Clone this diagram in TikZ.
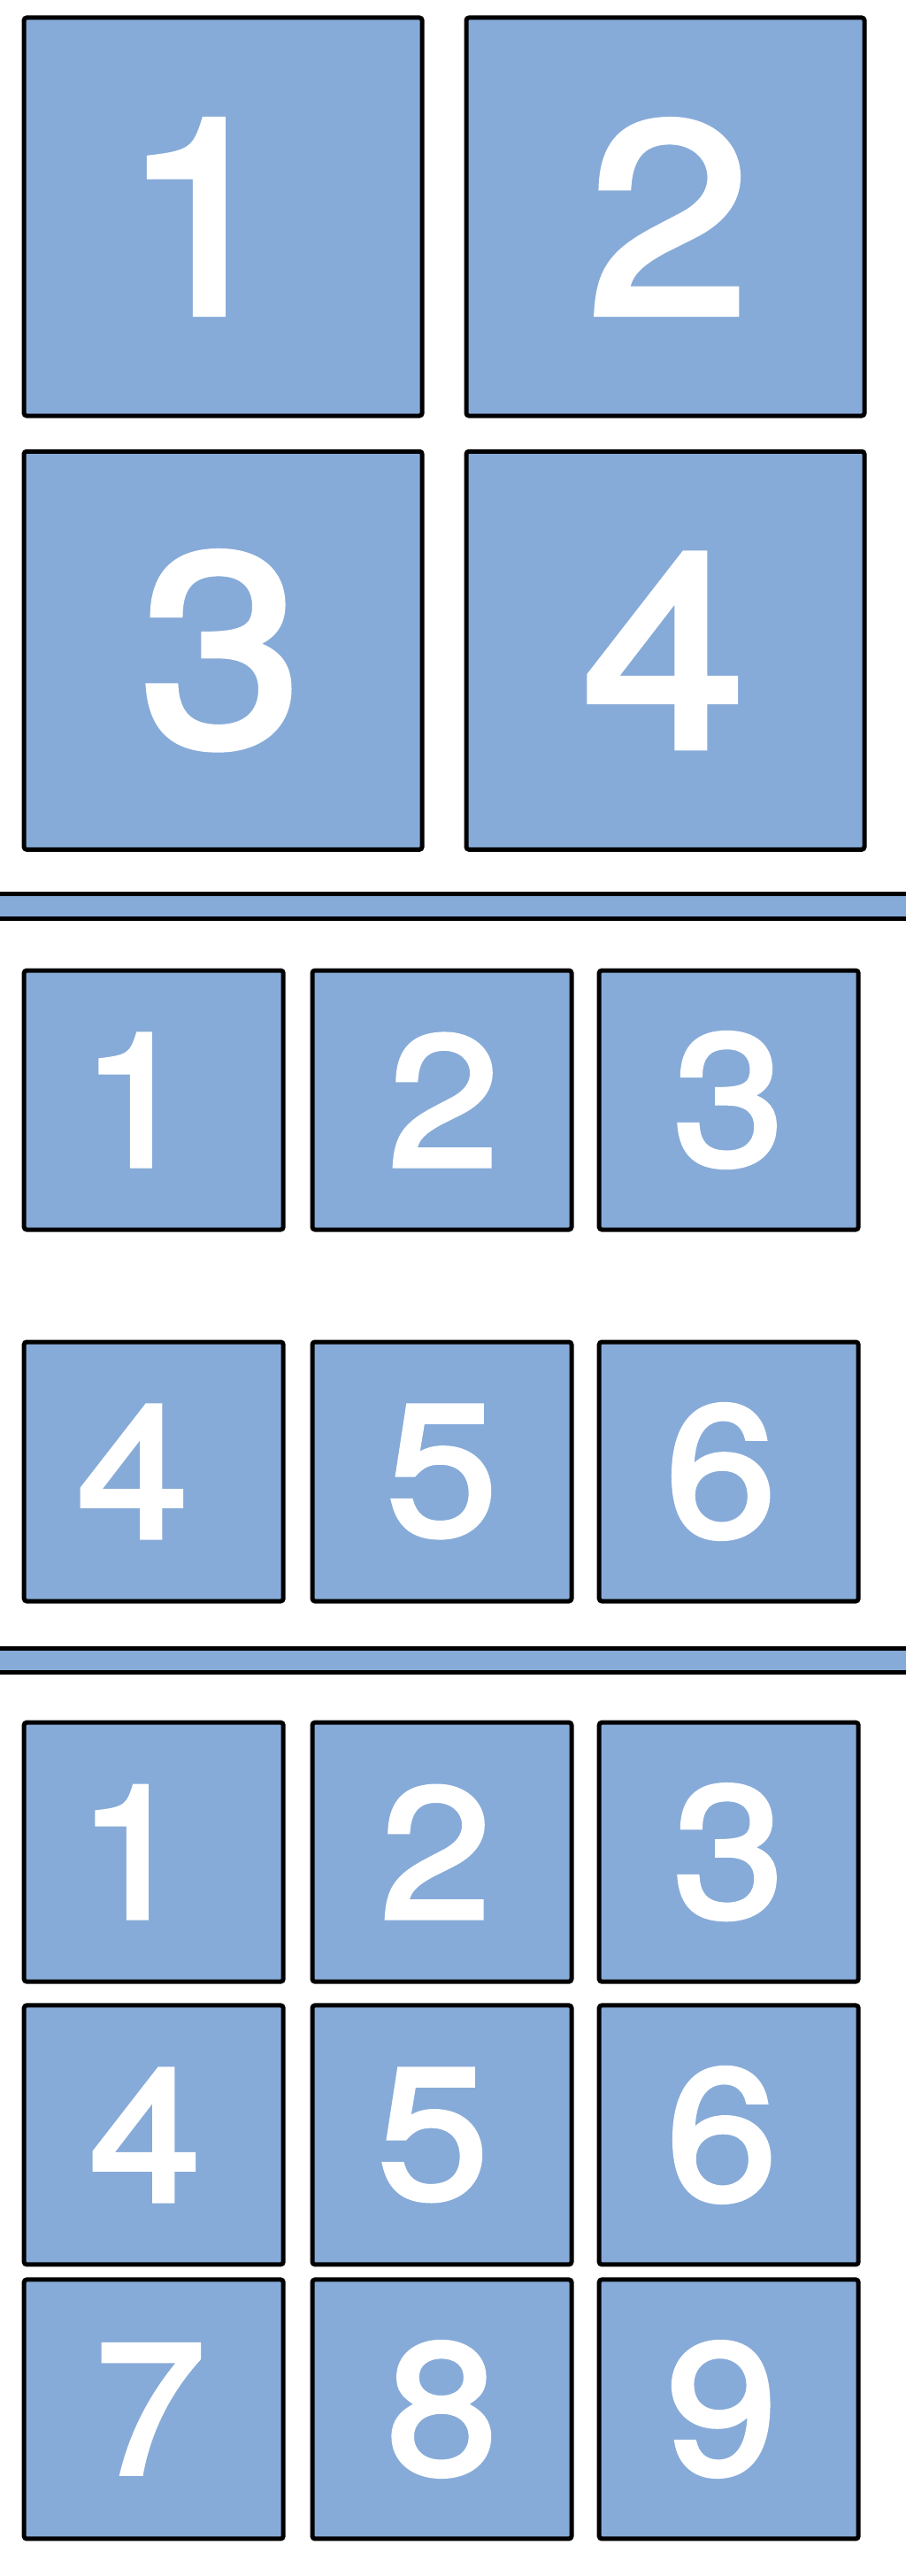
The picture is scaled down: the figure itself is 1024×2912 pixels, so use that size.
\documentclass[tikz,border=0pt]{standalone}
\usepackage{fontspec}
\newfontfamily\numfont[FakeStretch=1.076,FakeBold=2.5]{TeX Gyre Heros}
\definecolor{cellblue}{RGB}{135,171,216}
% digit, moved sideways inside its cell
\newcommand\dg[2]{\kern#1pt#2\kern-#1pt}
\begin{document}
\begin{tikzpicture}[x=1pt,y=1pt]
\tikzstyle{every node}+=[inner sep=0pt, outer sep=0pt]
\tikzstyle{cell}=[draw=black, line width=5pt, fill=cellblue, rounded corners=3pt, text=white]
\tikzstyle{bigcell}=[cell, minimum width=450pt, minimum height=450pt, font=\numfont\fontsize{308}{308}\selectfont]
\tikzstyle{smallcell}=[cell, minimum width=293pt, minimum height=293pt, font=\numfont\fontsize{210}{210}\selectfont]
\tikzstyle{bar}=[draw=black, line width=5pt, fill=cellblue, minimum width=1060pt]
\useasboundingbox (0,0) rectangle (1024,-2912);
\clip (0,0) rectangle (1024,-2912);
% four cells
\node [bigcell] (a1) at (252.1,-245) {\dg{-24}{1}};
\node [bigcell] (a2) at (752,-245) {\dg{4}{2}};
\node [bigcell] (a3) at (252.1,-735.3) {\dg{-2}{3}};
\node [bigcell] (a4) at (752,-735.3) {\dg{-2}{4}};
\node [bar, minimum height=27.5pt] (sep1) at (512,-1024.5) {};
% six cells
\node [smallcell] (b1) at (173.7,-1243.5) {\dg{-20}{1}};
\node [smallcell] (b2) at (499.5,-1243.5) {\dg{2}{2}};
\node [smallcell] (b3) at (823.7,-1243.5) {\dg{0}{3}};
\node [smallcell] (b4) at (173.7,-1663.5) {\dg{-24}{4}};
\node [smallcell] (b5) at (499.5,-1663.5) {\dg{0}{5}};
\node [smallcell] (b6) at (823.7,-1663.5) {\dg{-9}{6}};
\node [bar, minimum height=26.8pt] (sep2) at (512,-1876.6) {};
% nine cells
\node [smallcell] (c1) at (173.7,-2093.6) {\dg{-24}{1}};
\node [smallcell] (c2) at (499.5,-2093.6) {\dg{-7}{2}};
\node [smallcell] (c3) at (823.7,-2093.6) {\dg{0}{3}};
\node [smallcell] (c4) at (173.7,-2413.4) {\dg{-10}{4}};
\node [smallcell] (c5) at (499.5,-2413.4) {\dg{-10}{5}};
\node [smallcell] (c6) at (823.7,-2413.4) {\dg{-8}{6}};
\node [smallcell] (c7) at (173.7,-2723.4) {\dg{-4}{7}};
\node [smallcell] (c8) at (499.5,-2723.4) {\dg{0}{8}};
\node [smallcell] (c9) at (823.7,-2723.4) {\dg{-8}{9}};
\end{tikzpicture}
\end{document}
